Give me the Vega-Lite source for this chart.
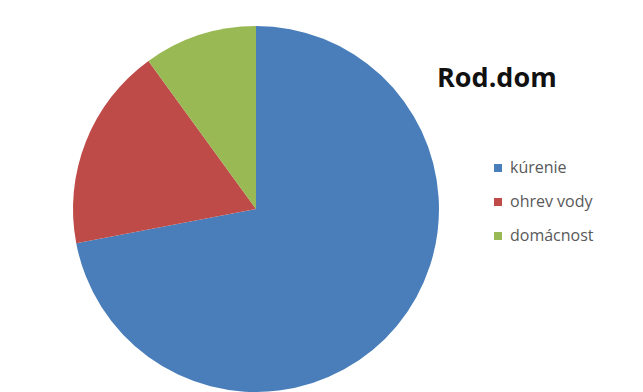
{
  "$schema": "https://vega.github.io/schema/vega-lite/v6.json",
  "width": 366,
  "height": 366,
  "autosize": "none",
  "padding": {"left": 73, "top": 26, "right": 204, "bottom": 0},
  "background": "white",
  "config": {"view": {"stroke": null}},
  "title": {
    "text": "Rod.dom",
    "anchor": "start",
    "frame": "group",
    "orient": "top",
    "dx": 364,
    "dy": 92,
    "baseline": "alphabetic",
    "font": "Open Sans",
    "fontWeight": "bold",
    "fontSize": 27,
    "color": "#111111"
  },
  "data": {
    "values": [
      {"kategoria": "kúrenie", "podiel": 72, "poradie": 1},
      {"kategoria": "ohrev vody", "podiel": 18, "poradie": 2},
      {"kategoria": "domácnost", "podiel": 10, "poradie": 3}
    ]
  },
  "mark": {"type": "arc", "outerRadius": 183, "stroke": null},
  "encoding": {
    "theta": {"field": "podiel", "type": "quantitative", "stack": true},
    "order": {"field": "poradie", "type": "quantitative"},
    "color": {
      "field": "kategoria",
      "type": "nominal",
      "sort": ["kúrenie", "ohrev vody", "domácnost"],
      "scale": {
        "domain": ["kúrenie", "ohrev vody", "domácnost"],
        "range": ["#4a7ebb", "#be4b48", "#98b954"]
      },
      "legend": {
        "title": null,
        "orient": "none",
        "legendX": 417,
        "legendY": 134,
        "symbolType": "square",
        "symbolSize": 64,
        "symbolStrokeWidth": 0,
        "labelFont": "Open Sans",
        "labelFontSize": 16,
        "labelColor": "#595959",
        "labelOffset": 4,
        "rowPadding": 18
      }
    }
  }
}
